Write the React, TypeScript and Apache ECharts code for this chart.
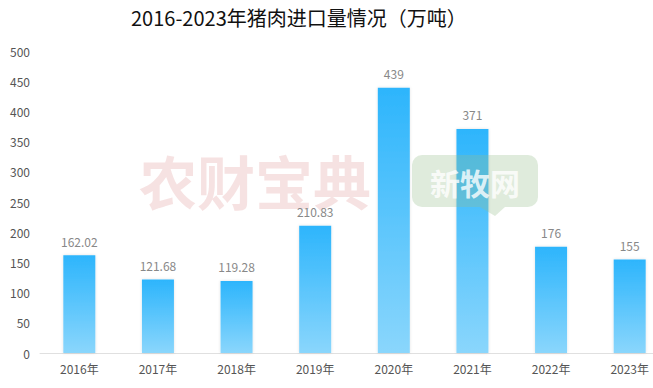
import React, { useEffect, useRef } from "react";
import * as echarts from "echarts";

const categories = ["2016年", "2017年", "2018年", "2019年", "2020年", "2021年", "2022年", "2023年"];
const imports = [162.02, 121.68, 119.28, 210.83, 439, 371, 176, 155];
const titleText = "2016-2023年猪肉进口量情况（万吨）";
const yMax = 500;
const yInterval = 50;

export default function App() {
  const ref = useRef<HTMLDivElement>(null);
  useEffect(() => {
    if (!ref.current) return;
    const chart = echarts.init(ref.current, null, { renderer: "svg" });
    const font = "'Noto Sans CJK SC', 'Noto Sans', sans-serif";
    const green = "rgba(150, 190, 140, 0.3)";
    chart.setOption({
      animation: false,
      backgroundColor: "#ffffff",
      title: {
        text: titleText,
        left: 126,
        top: 2,
        textStyle: { fontSize: 20, fontWeight: "normal", color: "#111", fontFamily: font },
      },
      grid: { left: 40, top: 51, bottom: 35, right: -16, containLabel: false, outerBoundsMode: "none" },
      xAxis: {
        type: "category",
        data: categories,
        axisLine: { lineStyle: { color: "#e0e0e0" } },
        axisTick: { show: false },
        axisLabel: { color: "#555", fontSize: 12, margin: 9, fontFamily: font },
      },
      yAxis: {
        type: "value",
        min: 0,
        max: yMax,
        interval: yInterval,
        splitLine: { show: false },
        axisLine: { show: false },
        axisTick: { show: false },
        axisLabel: { color: "#555", fontSize: 12, margin: 10, fontFamily: font },
      },
      graphic: [
        {
          type: "text",
          left: 139,
          top: 151,
          z: -1,
          silent: true,
          style: {
            text: "农财宝典",
            fontSize: 58,
            fontWeight: "bold",
            fontFamily: font,
            fill: "rgba(222, 150, 150, 0.28)",
          },
        },
        {
          type: "rect",
          z: 100,
          silent: true,
          shape: { x: 412, y: 155, width: 126, height: 52, r: 10 },
          style: { fill: green },
        },
        {
          type: "polygon",
          z: 100,
          silent: true,
          shape: { points: [[480, 207], [505, 207], [495, 216]] },
          style: { fill: green },
        },
        {
          type: "text",
          z: 101,
          silent: true,
          x: 475,
          y: 182,
          style: {
            text: "新牧网",
            fontSize: 30,
            fontWeight: "bold",
            fontFamily: font,
            fill: "rgba(255,255,255,0.8)",
            align: "center",
            verticalAlign: "middle",
          },
        },
      ],
      series: [
        {
          type: "bar",
          data: imports,
          barWidth: 32,
          z: 2,
          itemStyle: {
            color: new echarts.graphic.LinearGradient(0, 0, 0, 1, [
              { offset: 0, color: "#2db5fc" },
              { offset: 1, color: "#8ad6fc" },
            ]),
            shadowBlur: 3,
            shadowColor: "rgba(0,0,0,0.12)",
          },
          label: {
            show: true,
            position: "top",
            distance: 8,
            color: "#888",
            fontSize: 12,
            fontFamily: font,
          },
        },
      ],
    });
    return () => chart.dispose();
  }, []);
  return <div ref={ref} style={{ width: 653, height: 388, position: "absolute", left: 0, top: 0 }} />;
}
